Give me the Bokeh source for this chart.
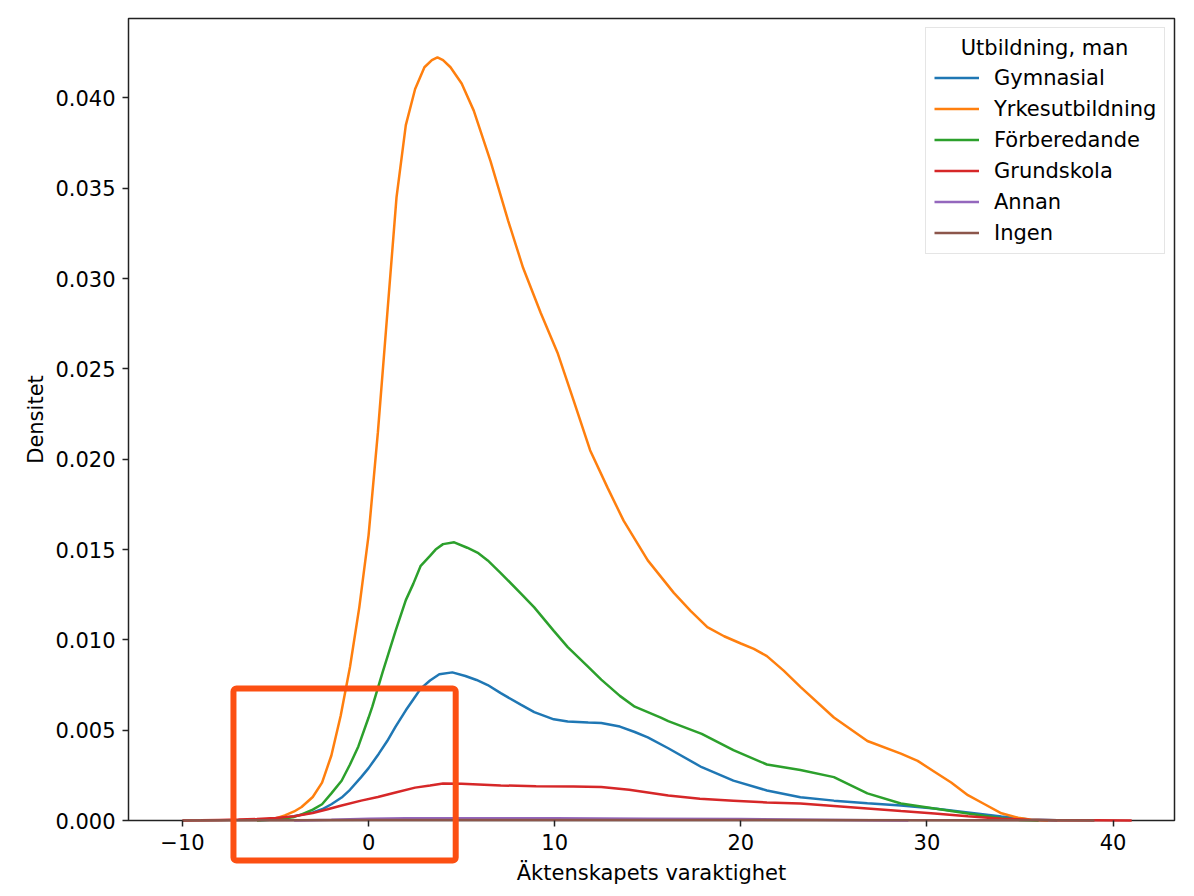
import math

from bokeh.plotting import figure
from bokeh.models import Range1d, FixedTicker, PrintfTickFormatter, BoxAnnotation, Label
from bokeh.embed import file_html
from bokeh.resources import INLINE

# Data (KDE-kurvor per utbildning)
serier = ["Gymnasial", "Yrkesutbildning", "Förberedande", "Grundskola", "Annan", "Ingen"]
farger = ["#1f77b4", "#ff7f0e", "#2ca02c", "#d62728", "#9467bd", "#8c564b"]

gymnasial_x = [-6, -5, -4, -3, -2.5, -2, -1.45, -1, -0.4, 0, 0.55, 1, 1.45, 2, 2.4, 2.8, 3.3, 3.8,
               4.5, 5.2, 5.8, 6.4, 7.1, 8.2, 8.9, 9.95, 10.7, 11.8, 12.5, 13.5, 14.3, 15, 16.1,
               17.9, 19.6, 21.4, 23.2, 25, 26.8, 28.6, 30.4, 32.2, 34, 35.5, 37]
gymnasial_y = [0.00001, 0.00006, 0.00024, 0.00045, 0.00062, 0.0009, 0.00127, 0.0017, 0.0024,
               0.0029, 0.0037, 0.0044, 0.0052, 0.0061, 0.0067, 0.0073, 0.00775, 0.0081, 0.0082,
               0.0080, 0.00778, 0.0075, 0.00705, 0.0064, 0.0060, 0.0056, 0.00548, 0.00543, 0.0054,
               0.0052, 0.0049, 0.0046, 0.0040, 0.00295, 0.00221, 0.00166, 0.00129, 0.0011,
               0.00096, 0.00083, 0.00066, 0.00044, 0.00022, 0.00006, 0.00001]

yrkes_x = [-6, -5, -4.5, -4, -3.6, -3, -2.5, -2, -1.5, -1, -0.5, 0, 0.5, 1, 1.5, 2, 2.5, 3, 3.4,
           3.7, 4.0, 4.4, 5, 5.65, 6.55, 7.5, 8.3, 9.25, 10.15, 11, 11.9, 12.85, 13.7, 15, 16.4,
           17.3, 18.2, 19.1, 20, 20.7, 21.4, 22.3, 23.2, 25, 26.8, 28.6, 29.5, 30.4, 31.3, 32.2,
           33.1, 34, 34.9, 35.6, 36.5]
yrkes_y = [0.00001, 0.00012, 0.00028, 0.0005, 0.00075, 0.0013, 0.0021, 0.0036, 0.0058, 0.0085,
           0.0118, 0.0158, 0.0215, 0.0280, 0.0345, 0.0385, 0.0405, 0.0417, 0.0421, 0.04225,
           0.0421, 0.0417, 0.0408, 0.0393, 0.0365, 0.0332, 0.0306, 0.0281, 0.0259, 0.0233,
           0.0205, 0.0184, 0.0166, 0.0144, 0.0126, 0.0116, 0.0107, 0.0102, 0.0098, 0.0095,
           0.0091, 0.0083, 0.0074, 0.0057, 0.0044, 0.0037, 0.0033, 0.0027, 0.0021, 0.0014,
           0.0009, 0.0004, 0.00015, 0.00004, 0.0]

forb_x = [-6, -5, -4, -3.6, -3, -2.5, -2, -1.45, -1, -0.55, 0, 0.2, 0.75, 1.45, 2, 2.4, 2.8, 3.3,
          3.6, 4, 4.6, 5.3, 5.9, 6.4, 7.1, 8.2, 8.9, 9.95, 10.7, 11.8, 12.5, 13.5, 14.3, 15.7,
          16.1, 17.9, 19.6, 21.4, 23.2, 25, 26.8, 28.6, 30.4, 32.2, 34, 35, 36]
forb_y = [0.00001, 0.00006, 0.0002, 0.00034, 0.0006, 0.0009, 0.0015, 0.0022, 0.0031, 0.0041,
          0.0057, 0.0063, 0.0082, 0.0105, 0.0122, 0.0131, 0.0141, 0.01465, 0.0150, 0.0153,
          0.0154, 0.0151, 0.0148, 0.0144, 0.0137, 0.01255, 0.0118, 0.0105, 0.0096, 0.0085,
          0.0078, 0.0069, 0.0063, 0.0057, 0.0055, 0.0048, 0.0039, 0.0031, 0.0028, 0.0024,
          0.0015, 0.00094, 0.00066, 0.00039, 0.00012, 0.00003, 0.0]

grund_x = [-10, -9, -8, -7, -6, -5, -4, -3, -2.2, -1.5, -0.4, 0.5, 1.45, 2.5, 3.3, 4, 5, 7.1, 9,
           11, 12.5, 14, 16.1, 17.8, 19.6, 21.4, 23.2, 25, 26.8, 28.6, 30.4, 32.2, 34, 35.5, 37,
           39, 41]
grund_y = [0.0, 0.00001, 0.00003, 0.00005, 0.00008, 0.00014, 0.00024, 0.00042, 0.00062, 0.00082,
           0.0011, 0.0013, 0.00155, 0.00182, 0.00194, 0.00205, 0.00203, 0.00194, 0.0019, 0.00188,
           0.00185, 0.0017, 0.00138, 0.0012, 0.0011, 0.001, 0.00094, 0.0008, 0.00066, 0.00052,
           0.00039, 0.00024, 0.0001, 0.00004, 0.00002, 0.00001, 0.0]

annan_x = [-4, -2, 0, 2, 5, 10, 15, 20, 24, 27, 29]
annan_y = [0.0, 0.00004, 0.00009, 0.00012, 0.00013, 0.00012, 0.0001, 0.00008, 0.00004, 0.00001, 0.0]

ingen_x = [-10, -5, 0, 10, 20, 30, 36, 39]
ingen_y = [0.0, 0.00002, 0.00003, 0.00003, 0.00003, 0.00002, 0.00001, 0.0]

kurvor = [(gymnasial_x, gymnasial_y), (yrkes_x, yrkes_y), (forb_x, forb_y),
          (grund_x, grund_y), (annan_x, annan_y), (ingen_x, ingen_y)]

x_ticks = [-10, 0, 10, 20, 30, 40]
y_ticks = [0.0, 0.005, 0.01, 0.015, 0.02, 0.025, 0.03, 0.035, 0.04]

# Axlarnas gränser (matplotlib-ramen)
x_min, x_max = -12.9, 43.3
y_min, y_max = 0.0, 0.0444

# Markerad ruta i datakoordinater (når ned under x-axeln)
ruta = dict(left=-7.26, right=4.68, top=0.00731, bottom=-0.00221)

FONT = "DejaVu Sans"
FS = "21px"
SVART = "#222222"

# Hela duken är rityta; ramen ligger på pixlarna 128..1174 x 18..820
W, H = 1186, 888
ram_l, ram_r, ram_t, ram_b = 128, 1174, 18, 820
sx = (ram_r - ram_l) / (x_max - x_min)
sy = (ram_b - ram_t) / (y_max - y_min)

p = figure(
    width=W, height=H,
    x_range=Range1d(x_min - ram_l / sx, x_max + (W - ram_r) / sx),
    y_range=Range1d(y_min - (H - ram_b) / sy, y_max + ram_t / sy),
    output_backend="svg", toolbar_location=None,
    min_border=0,
)
p.grid.visible = False
p.outline_line_color = None
p.background_fill_color = "white"
p.border_fill_color = "white"

for (xs, ys), namn, farg in zip(kurvor, serier, farger):
    p.line(xs, ys, line_color=farg, line_width=2.5, legend_label=namn)

# Axlar i matplotlib-stil, fästa vid ramens kanter
for ax in (p.xaxis[0], p.yaxis[0]):
    ax.axis_line_color = None
    ax.major_tick_line_color = SVART
    ax.major_tick_line_width = 1.5
    ax.major_tick_in = 0
    ax.major_tick_out = 6
    ax.minor_tick_line_color = None
    ax.major_label_text_font = FONT
    ax.major_label_text_font_size = FS
    ax.major_label_text_color = "black"
    ax.major_label_standoff = 7

p.xaxis.ticker = FixedTicker(ticks=x_ticks)
p.xaxis.major_label_overrides = {t: (str(t) if t >= 0 else "\u2212" + str(-t)) for t in x_ticks}
p.xaxis.fixed_location = y_min
p.yaxis.ticker = FixedTicker(ticks=y_ticks)
p.yaxis.formatter = PrintfTickFormatter(format="%.3f")
p.yaxis.fixed_location = x_min

# Axeltitlar centrerade mot ramen
p.add_layout(Label(x=(x_min + x_max) / 2, y=y_min - 52 / sy, text="Äktenskapets varaktighet",
                   text_font=FONT, text_font_size=FS, text_color="black",
                   text_align="center", text_baseline="middle"))
p.add_layout(Label(x=x_min - 93 / sx, y=(y_min + y_max) / 2, text="Densitet",
                   text_font=FONT, text_font_size=FS, text_color="black", angle=math.pi / 2,
                   text_align="center", text_baseline="middle"))

# Ram runt diagrammet
p.add_layout(BoxAnnotation(left=x_min, right=x_max, bottom=y_min, top=y_max, fill_alpha=0,
                           line_color=SVART, line_alpha=1.0, line_width=1.5, level="underlay"))

leg = p.legend[0]
leg.title = "\u00a0\u00a0\u00a0\u00a0Utbildning, man"
leg.title_text_font = FONT
leg.title_text_font_size = FS
leg.title_text_font_style = "normal"
leg.title_text_color = "black"
leg.title_standoff = 5
leg.label_text_font = FONT
leg.label_text_font_size = FS
leg.label_text_color = "black"
leg.location = (925, H - 254)
leg.margin = 0
leg.padding = 8
leg.spacing = 6
leg.glyph_width = 45
leg.glyph_height = 25
leg.label_height = 25
leg.label_standoff = 15
leg.border_line_color = "#cccccc"
leg.border_line_width = 1.2
leg.background_fill_alpha = 0.9

# Orange-röd markering
p.add_layout(BoxAnnotation(left=ruta["left"], right=ruta["right"], top=ruta["top"],
                           bottom=ruta["bottom"], fill_alpha=0, line_color="#fc4f12",
                           line_alpha=1.0, line_width=6, border_radius=3))

open("out.html", "w").write(file_html(p, INLINE))
